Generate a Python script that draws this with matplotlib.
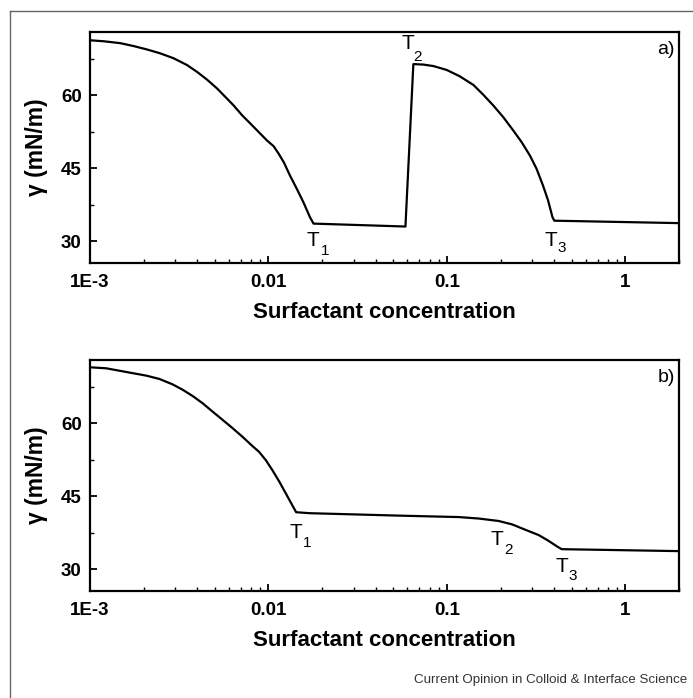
import matplotlib
matplotlib.use("Agg")
import matplotlib.pyplot as plt
from matplotlib.lines import Line2D
from matplotlib.ticker import FixedLocator, FixedFormatter, LogLocator, NullFormatter, MultipleLocator

plt.rcParams['font.family'] = ['Liberation Sans', 'DejaVu Sans']

# ---- data ----
conc_a = [0.0010, 0.00119, 0.00148, 0.00176, 0.00209, 0.00248, 0.00294, 0.00350, 0.00398,
          0.00453, 0.00515, 0.00586, 0.00638, 0.00711, 0.00791, 0.0090, 0.00981, 0.0107,
          0.0114, 0.0122, 0.0132, 0.0144, 0.0157, 0.0171, 0.0179,
          0.0586,
          0.0649, 0.0738, 0.0839, 0.0998, 0.118, 0.141, 0.160, 0.182, 0.207, 0.235,
          0.262, 0.292, 0.318, 0.346, 0.369, 0.391, 0.40, 2.0]
gamma_a = [71.3, 71.1, 70.7, 70.1, 69.4, 68.6, 67.6, 66.2, 64.8,
           63.2, 61.4, 59.3, 57.9, 55.9, 54.2, 52.1, 50.7, 49.5,
           48.0, 46.2, 43.5, 40.8, 38.0, 34.9, 33.6,
           33.0,
           66.4, 66.3, 66.0, 65.2, 63.9, 62.1, 60.1, 57.9, 55.5, 52.8,
           50.4, 47.6, 44.9, 41.4, 38.4, 34.9, 34.2, 33.7]

conc_b = [0.0010, 0.00123, 0.00146, 0.00173, 0.00206, 0.00245, 0.00290, 0.00330, 0.00376,
          0.00428, 0.00486, 0.00553, 0.00629, 0.00716, 0.00814, 0.00887, 0.00967, 0.0105,
          0.0115, 0.0125, 0.0133, 0.0143,
          0.0170, 0.0538, 0.117, 0.151, 0.195, 0.232, 0.275, 0.327, 0.372, 0.413, 0.44, 2.0]
gamma_b = [71.5, 71.3, 70.8, 70.3, 69.8, 69.1, 68.0, 66.9, 65.6,
           64.1, 62.4, 60.7, 59.0, 57.2, 55.3, 54.1, 52.4, 50.4,
           48.0, 45.6, 43.8, 41.7,
           41.5, 41.0, 40.7, 40.4, 39.9, 39.2, 38.1, 37.0, 35.8, 34.7, 34.1, 33.7]

x_ticks = [0.001, 0.01, 0.1, 1]
x_ticklabels = ['1E-3', '0.01', '0.1', '1']
y_ticks = [30, 45, 60]

# transition labels: (main, subscript, main position, subscript position)
labels_a = [('T', '1', (0.0177, 30.1), (0.0209, 28.0)),
            ('T', '2', (0.0601, 70.7), (0.0684, 67.8)),
            ('T', '3', (0.385, 30.1), (0.438, 28.5))]
labels_b = [('T', '1', (0.0143, 37.6), (0.0164, 35.3)),
            ('T', '2', (0.190, 36.1), (0.222, 33.9)),
            ('T', '3', (0.44, 30.6), (0.506, 28.5))]

W, H = 693, 698
fig = plt.figure(figsize=(W / 100, H / 100), dpi=100)

def px_axes(left, top, right, bottom):
    return fig.add_axes([left / W, 1 - bottom / H, (right - left) / W, (bottom - top) / H])

ax_a = px_axes(90, 32, 679, 263)
ax_b = px_axes(90, 360, 679, 591)

def style(ax, conc, gamma, labels, tag):
    ax.plot(conc, gamma, color='black', lw=1.6, solid_joinstyle='round')
    ax.set_xscale('log')
    ax.set_xlim(1e-3, 2.0)
    ax.set_ylim(25.5, 73.0)
    ax.xaxis.set_major_locator(FixedLocator(x_ticks))
    ax.xaxis.set_major_formatter(FixedFormatter(x_ticklabels))
    ax.xaxis.set_minor_locator(LogLocator(base=10, subs=range(2, 10)))
    ax.xaxis.set_minor_formatter(NullFormatter())
    ax.yaxis.set_major_locator(FixedLocator(y_ticks))
    ax.yaxis.set_minor_locator(MultipleLocator(7.5))
    ax.tick_params(which='major', direction='in', length=5, width=1.3,
                   labelsize=13.5, pad=6)
    ax.tick_params(which='minor', direction='in', length=3, width=1.0)
    ax.tick_params(axis='x', which='major', pad=8)
    for lab in ax.get_xticklabels() + ax.get_yticklabels():
        lab.set_fontweight('bold')
    for sp in ax.spines.values():
        sp.set_linewidth(1.6)
    for main, sub, p1, p2 in labels:
        ax.text(p1[0], p1[1], main, fontsize=15, ha='center', va='center')
        ax.text(p2[0], p2[1], sub, fontsize=11, ha='center', va='center')
    ax.text(0.993, 0.926, tag, transform=ax.transAxes, fontsize=14,
            ha='right', va='center')

style(ax_a, conc_a, gamma_a, labels_a, 'a)')
style(ax_b, conc_b, gamma_b, labels_b, 'b)')

# axis titles
for yc_lab, yc_y in [(312, 147.5), (640, 475.5)]:
    fig.text(384.5 / W, 1 - yc_lab / H, 'Surfactant concentration', fontsize=16,
             fontweight='bold', ha='center', va='center')
    fig.text(36 / W, 1 - yc_y / H, 'γ (mN/m)', fontsize=16.5, fontweight='bold',
             rotation=90, ha='center', va='center')

fig.text(687 / W, 1 - 680 / H, 'Current Opinion in Colloid & Interface Science',
         fontsize=9.6, color='#333333', ha='right', va='center')

# outer frame (top and left edges visible)
fig.add_artist(Line2D([10 / W, 10 / W], [0, 1 - 11 / H], transform=fig.transFigure,
                      color='#666666', lw=1.0))
fig.add_artist(Line2D([10 / W, 1], [1 - 11 / H, 1 - 11 / H], transform=fig.transFigure,
                      color='#666666', lw=1.0))

fig.savefig('out.png', dpi=100)
